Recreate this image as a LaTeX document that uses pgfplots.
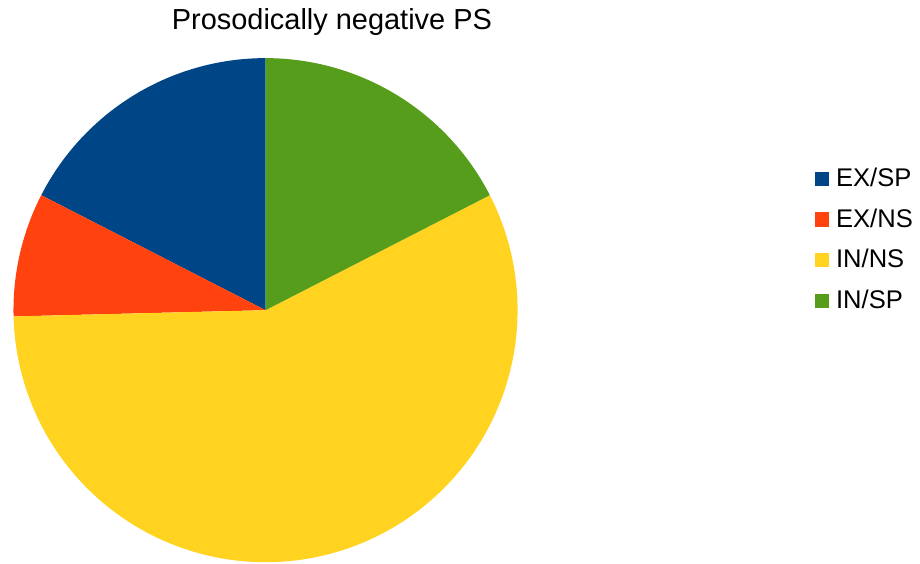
\documentclass[border=0pt]{standalone}
\usepackage{pgfplots}
\usepackage{pgfplotstable}
\pgfplotsset{compat=1.18}
\usepackage{fontspec}
\setmainfont{Liberation Sans}

\definecolor{slice0}{HTML}{004586}
\definecolor{slice1}{HTML}{FF420E}
\definecolor{slice2}{HTML}{FFD320}
\definecolor{slice3}{HTML}{579D1C}

% slice counts, drawn counter-clockwise from 12 o'clock
\pgfplotstableread{
label value
EX/SP 11
EX/NS 5
IN/NS 36
IN/SP 11
}\piedata

\begin{document}
\begin{tikzpicture}
\pgfplotstablegetrowsof{\piedata}\pgfmathtruncatemacro\nrows{\pgfplotsretval-1}
\def\total{0}
\pgfplotsforeachungrouped \i in {0,...,\nrows}{%
  \pgfplotstablegetelem{\i}{value}\of\piedata
  \pgfmathsetmacro\total{\total+\pgfplotsretval}%
}
\begin{axis}[
  scale only axis,
  width=460pt, height=282pt,
  xmin=0, xmax=920, ymin=0, ymax=564,
  y dir=reverse,
  hide axis,
  clip=false,
  legend cell align=left,
  legend image code/.code={\fill[#1] (0pt,-3.6pt) rectangle (7pt,3.6pt);},
  legend style={
    at={(axis cs:816,167)}, anchor=north west,
    draw=none, fill=none, inner sep=0pt,
    font=\fontsize{12.8}{14.5}\selectfont,
    row sep=8.6pt,
    nodes={inner xsep=3.6pt, inner ysep=0.5pt},
  },
]
\path (axis cs:0,0) (axis cs:920,564);
\def\angstart{90}
\pgfplotsforeachungrouped \i in {0,...,\nrows}{%
  \pgfplotstablegetelem{\i}{value}\of\piedata \let\v\pgfplotsretval
  \pgfplotstablegetelem{\i}{label}\of\piedata \let\lab\pgfplotsretval
  \pgfmathsetmacro\angend{\angstart+360*\v/\total}%
  \edef\cmd{%
    \noexpand\addplot[fill=slice\i, draw=none, domain=\angstart:\angend, samples=150]
      ({266+252.5*cos(x)},{310.7-252.5*sin(x)}) -- (axis cs:266,310.7) -- cycle;
    \noexpand\addlegendentry{\lab}%
  }%
  \cmd
  \global\let\angstart\angend
}
\node[anchor=base, font=\fontsize{14.5}{17}\selectfont, inner sep=0pt]
  at (axis cs:332.5,30) {Prosodically negative PS};
\end{axis}
\end{tikzpicture}
\end{document}
